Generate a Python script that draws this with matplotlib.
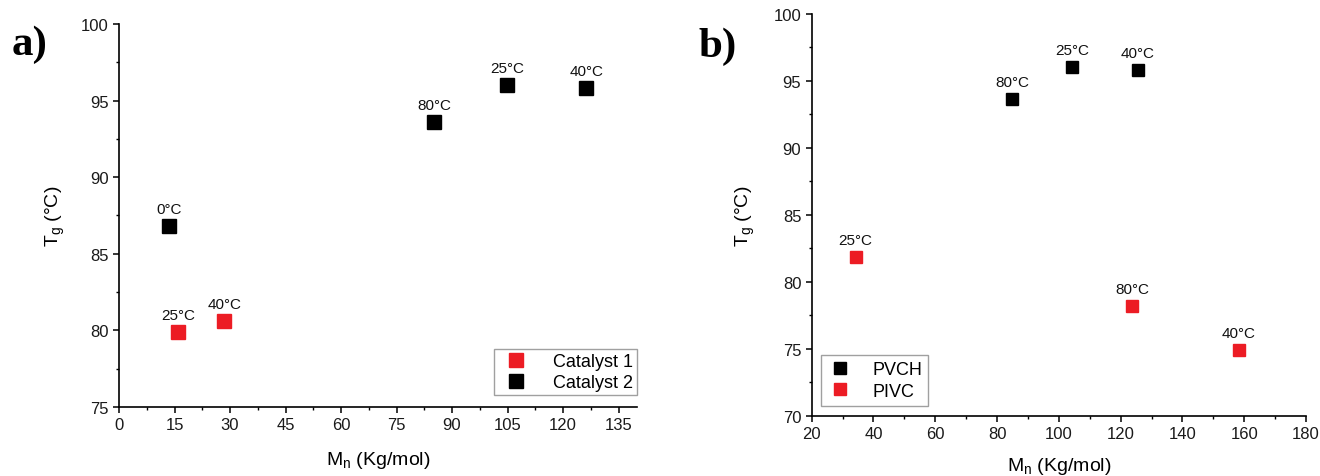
import matplotlib
matplotlib.use("Agg")
import matplotlib.pyplot as plt
from matplotlib.ticker import MultipleLocator

plt.rcParams['font.family'] = ['Liberation Sans', 'DejaVu Sans']

# panel a data
cat1_x = [15.9, 28.4]
cat1_y = [79.9, 80.6]
cat1_lab = ['25°C', '40°C']
cat2_x = [13.6, 85.2, 104.8, 126.3]
cat2_y = [86.8, 93.6, 96.0, 95.8]
cat2_lab = ['0°C', '80°C', '25°C', '40°C']

# panel b data
pvch_x = [84.8, 104.2, 125.5]
pvch_y = [93.65, 96.05, 95.8]
pvch_lab = ['80°C', '25°C', '40°C']
pivc_x = [34.2, 123.8, 158.3]
pivc_y = [81.85, 78.2, 74.95]
pivc_lab = ['25°C', '80°C', '40°C']

RED = '#ec1c24'
BLACK = '#000000'

fig = plt.figure(figsize=(13.2, 4.77), dpi=100)
ax1 = fig.add_axes([0.0902, 0.1447, 0.3924, 0.8029])
ax2 = fig.add_axes([0.6149, 0.1258, 0.3745, 0.8428])


def style(ax, xmaj, xmin, ymaj, ymin):
    for s in ['top', 'right']:
        ax.spines[s].set_visible(False)
    for s in ['left', 'bottom']:
        ax.spines[s].set_linewidth(1.2)
    ax.xaxis.set_major_locator(MultipleLocator(xmaj))
    ax.xaxis.set_minor_locator(MultipleLocator(xmin))
    ax.yaxis.set_major_locator(MultipleLocator(ymaj))
    ax.yaxis.set_minor_locator(MultipleLocator(ymin))
    ax.tick_params(which='major', direction='out', length=4.5, width=1.1,
                   labelsize=12, labelcolor='#1a1a1a', pad=3)
    ax.tick_params(which='minor', direction='out', length=2.5, width=1.0)


def labels(ax, xs, ys, labs):
    for x, y, t in zip(xs, ys, labs):
        ax.annotate(t, (x, y), xytext=(0, 9.4), textcoords='offset points',
                    ha='center', va='baseline', fontsize=11, color='#111111')


# ---- a)
ax1.plot(cat1_x, cat1_y, 's', color=RED, ms=10, mec=RED, label='Catalyst 1', clip_on=False)
ax1.plot(cat2_x, cat2_y, 's', color=BLACK, ms=10, label='Catalyst 2', clip_on=False)
labels(ax1, cat1_x, cat1_y, cat1_lab)
labels(ax1, cat2_x, cat2_y, cat2_lab)
ax1.set_xlim(0, 140)
ax1.set_ylim(75, 100)
style(ax1, 15, 7.5, 5, 2.5)
ax1.set_xlabel('M$_\\mathregular{n}$ (Kg/mol)', fontsize=14, labelpad=12)
ax1.set_ylabel('T$_\\mathregular{g}$ (°C)', fontsize=14, labelpad=10)
leg1 = ax1.legend(loc='lower right', bbox_to_anchor=(1.0, 0.03), borderaxespad=0,
                  fontsize=13, fancybox=False, edgecolor='#888888', handlelength=2.0,
                  handletextpad=1.0, borderpad=0.25, labelspacing=0.2, markerscale=1.0)
leg1.get_frame().set_linewidth(1.0)

# ---- b)
ax2.plot(pvch_x, pvch_y, 's', color=BLACK, ms=8, label='PVCH', clip_on=False)
ax2.plot(pivc_x, pivc_y, 's', color=RED, ms=8, mec=RED, label='PIVC', clip_on=False)
labels(ax2, pvch_x, pvch_y, pvch_lab)
labels(ax2, pivc_x, pivc_y, pivc_lab)
ax2.set_xlim(20, 180)
ax2.set_ylim(70, 100)
style(ax2, 20, 10, 5, 2.5)
ax2.set_xlabel('M$_\\mathregular{n}$ (Kg/mol)', fontsize=14, labelpad=10)
ax2.set_ylabel('T$_\\mathregular{g}$ (°C)', fontsize=14, labelpad=12)
leg2 = ax2.legend(loc='lower left', bbox_to_anchor=(0.018, 0.025), borderaxespad=0,
                  fontsize=13, fancybox=False, edgecolor='#888888', handlelength=1.5,
                  handletextpad=1.0, borderpad=0.35, labelspacing=0.25, markerscale=1.0)
leg2.get_frame().set_linewidth(1.0)

# panel letters
fig.text(0.009, 0.885, 'a)', fontsize=31, fontweight='bold', family='Liberation Serif')
fig.text(0.529, 0.88, 'b)', fontsize=31, fontweight='bold', family='Liberation Serif')

fig.savefig('out.png', dpi=100)
